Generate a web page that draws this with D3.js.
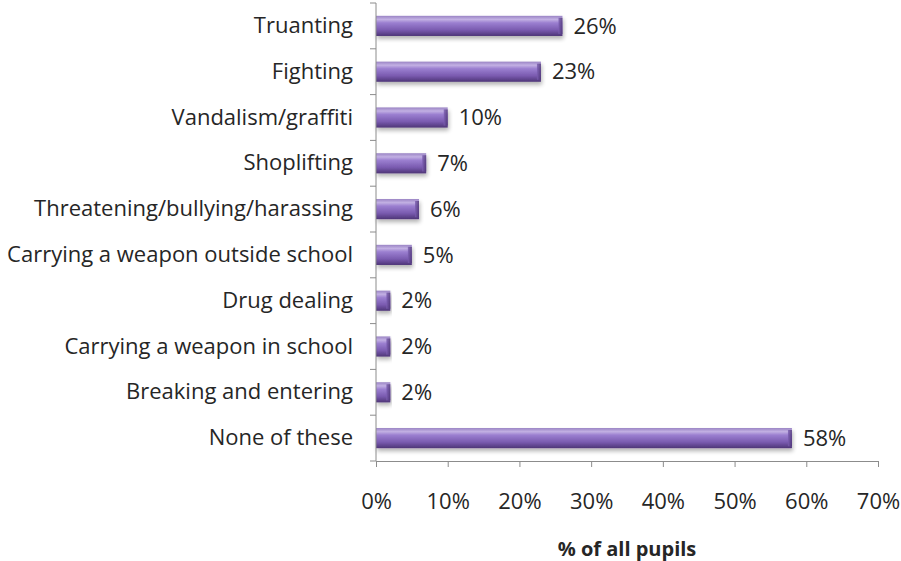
<!DOCTYPE html>
<html>
<head>
<meta charset="utf-8">
<script src="https://cdn.jsdelivr.net/npm/d3@7"></script>
<style>
  html, body { margin: 0; padding: 0; background: #fff; }
  svg { display: block; }
  text { font-family: "Open Sans", "Lato", sans-serif; fill: #262626; }
</style>
</head>
<body>
<script>
const categories = [
  "Truanting",
  "Fighting",
  "Vandalism/graffiti",
  "Shoplifting",
  "Threatening/bullying/harassing",
  "Carrying a weapon outside school",
  "Drug dealing",
  "Carrying a weapon in school",
  "Breaking and entering",
  "None of these"
];
const values = [26, 23, 10, 7, 6, 5, 2, 2, 2, 58];
const tickValues = [0, 10, 20, 30, 40, 50, 60, 70];
const axisTitle = "% of all pupils";

const width = 901, height = 561;
const labelSize = 22;
const svg = d3.select("body").append("svg")
  .attr("width", width).attr("height", height);

const x = d3.scaleLinear().domain([0, 70]).range([376, 878]);
const y = d3.scaleBand().domain(categories).range([3, 461]).paddingInner(0.56).paddingOuter(0.28);

const defs = svg.append("defs");
const grad = defs.append("linearGradient").attr("id", "barFill")
  .attr("x1", 0).attr("y1", 0).attr("x2", 0).attr("y2", 1);
[["0%", "#9a84c4"], ["18%", "#c2b0e3"], ["35%", "#9b7fd0"], ["70%", "#7a5bb0"], ["100%", "#4e3577"]]
  .forEach(([o, c]) => grad.append("stop").attr("offset", o).attr("stop-color", c));
const endGrad = defs.append("linearGradient").attr("id", "endFill")
  .attr("x1", 0).attr("y1", 0).attr("x2", 1).attr("y2", 0);
[["0%", "#7c5fb2"], ["100%", "#4a3272"]]
  .forEach(([o, c]) => endGrad.append("stop").attr("offset", o).attr("stop-color", c));
const shadow = defs.append("filter").attr("id", "shadow")
  .attr("x", "-5%").attr("y", "-20%").attr("width", "115%").attr("height", "160%");
shadow.append("feGaussianBlur").attr("in", "SourceAlpha").attr("stdDeviation", 2);
shadow.append("feOffset").attr("dx", 1).attr("dy", 3).attr("result", "blur");
shadow.append("feComponentTransfer").append("feFuncA").attr("type", "linear").attr("slope", 0.3);
const merge = shadow.append("feMerge");
merge.append("feMergeNode");
merge.append("feMergeNode").attr("in", "SourceGraphic");

// Bars
const bars = svg.append("g").selectAll("g").data(categories).join("g")
  .attr("filter", "url(#shadow)");
bars.append("rect")
  .attr("x", x(0))
  .attr("y", d => y(d))
  .attr("width", (d, i) => x(values[i]) - x(0))
  .attr("height", y.bandwidth())
  .attr("fill", "url(#barFill)");
// bevelled right end
bars.append("rect")
  .attr("x", (d, i) => x(values[i]) - 4)
  .attr("y", d => y(d) + 2)
  .attr("width", 4)
  .attr("height", y.bandwidth() - 4)
  .attr("fill", "url(#endFill)")
  .attr("opacity", 0.8);

// Value labels
svg.append("g").selectAll("text").data(categories).join("text")
  .attr("x", (d, i) => x(values[i]) + 11)
  .attr("y", d => y(d) + y.bandwidth() / 2)
  .attr("dy", "0.35em")
  .attr("font-size", labelSize)
  .text((d, i) => values[i] + "%");

// Y axis
const yAxis = svg.append("g")
  .attr("transform", `translate(${x(0)},0)`)
  .call(d3.axisLeft(y).tickSize(0).tickPadding(23));
yAxis.select(".domain").attr("stroke", "#8c8c8c").attr("d", `M0,${y.range()[0]}V${y.range()[1]}`);
yAxis.selectAll("text").attr("font-size", labelSize).attr("fill", "#262626").attr("font-family", "'Open Sans', sans-serif");
// category boundary ticks
const bounds = d3.range(categories.length + 1).map(i => y.range()[0] + i * (y.range()[1] - y.range()[0]) / categories.length);
yAxis.selectAll(".bound").data(bounds).join("line").attr("class", "bound")
  .attr("x1", -6).attr("x2", 0).attr("y1", d => d).attr("y2", d => d)
  .attr("stroke", "#8c8c8c");

// X axis
const xAxis = svg.append("g")
  .attr("transform", `translate(0,461)`)
  .call(d3.axisBottom(x).tickValues(tickValues).tickFormat(d => d + "%").tickSize(6).tickPadding(26).tickSizeOuter(0));
xAxis.select(".domain").attr("stroke", "#8c8c8c");
xAxis.selectAll(".tick line").attr("stroke", "#8c8c8c");
xAxis.selectAll("text").attr("font-size", labelSize).attr("fill", "#262626").attr("font-family", "'Open Sans', sans-serif");

// Axis title
svg.append("text")
  .attr("x", 627).attr("y", 556)
  .attr("text-anchor", "middle")
  .attr("font-size", 20)
  .attr("font-weight", "bold")
  .text(axisTitle);
</script>
</body>
</html>
